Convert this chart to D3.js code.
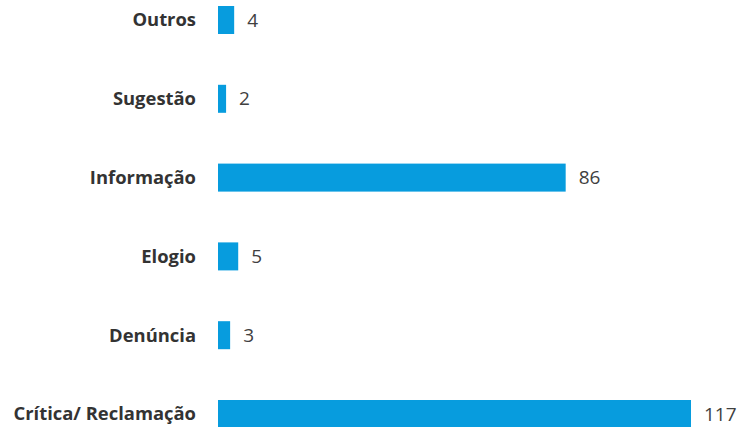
<!DOCTYPE html>
<html>
<head>
<meta charset="utf-8">
<script src="https://cdn.jsdelivr.net/npm/d3@7"></script>
<style>
  body { margin: 0; background: #fff; }
  .cat { font-family: "Open Sans", sans-serif; font-weight: bold; font-size: 18.4px; fill: #333; }
  .val { font-family: "Open Sans", sans-serif; font-size: 19px; fill: #404040; }
</style>
</head>
<body>
<div id="chart"></div>
<script>
var categories = ["Outros", "Sugestão", "Informação", "Elogio", "Denúncia", "Crítica/ Reclamação"];
var values = [4, 2, 86, 5, 3, 117];

var width = 741, height = 427;
var barH = 28;

var svg = d3.select("#chart").append("svg")
    .attr("width", width)
    .attr("height", height);

var x = d3.scaleLinear().domain([0, 117]).range([218, 691]);
var y = d3.scalePoint().domain(categories).range([20, 414]);

var data = categories.map(function(c, i) { return {cat: c, val: values[i]}; });

svg.selectAll(".bar")
    .data(data)
  .enter().append("rect")
    .attr("class", "bar")
    .attr("x", x(0))
    .attr("y", function(d) { return y(d.cat) - barH / 2; })
    .attr("width", function(d) { return x(d.val) - x(0); })
    .attr("height", barH)
    .attr("fill", "#079cde");

svg.selectAll(".cat")
    .data(data)
  .enter().append("text")
    .attr("class", "cat")
    .attr("x", 196)
    .attr("y", function(d) { return y(d.cat); })
    .attr("dy", "0.35em")
    .attr("text-anchor", "end")
    .text(function(d) { return d.cat; });

svg.selectAll(".val")
    .data(data)
  .enter().append("text")
    .attr("class", "val")
    .attr("x", function(d) { return x(d.val) + 13; })
    .attr("y", function(d) { return y(d.cat); })
    .attr("dy", "0.35em")
    .text(function(d) { return d.val; });
</script>
</body>
</html>
